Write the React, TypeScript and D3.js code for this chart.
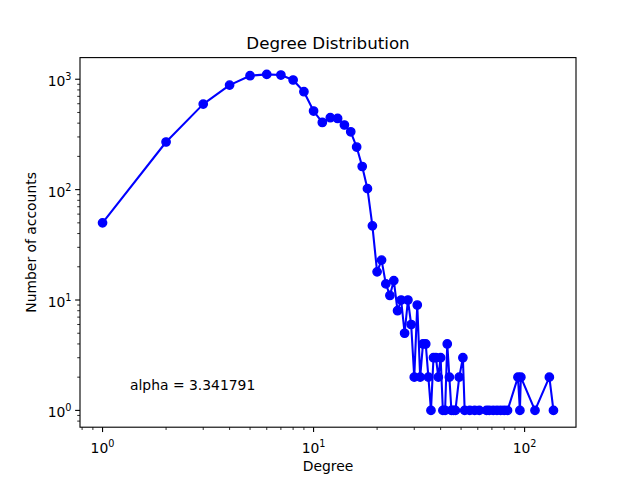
import React from 'react';
import * as d3 from 'd3';

// degree -> number of accounts
const degrees = [
  1, 2, 3, 4, 5, 6, 7, 8, 9, 10, 11, 12, 13, 14, 15, 16, 17, 18, 19, 20,
  21, 22, 23, 24, 25, 26, 27, 28, 29, 30, 31, 32, 33, 34, 35, 36, 37, 38, 39, 40,
  41, 42, 43, 44, 45, 46, 47, 49, 51, 52, 55, 58, 61, 66, 68, 71, 74, 77, 80, 83,
  93, 95, 96, 112, 131, 137,
];
const counts = [
  50, 270, 595, 885, 1076, 1106, 1092, 984, 771, 515, 406, 448, 441, 385, 334, 243, 162, 102, 47, 18,
  23, 14, 11, 15, 8, 10, 5, 10, 6, 2, 9, 2, 4, 4, 2, 1, 3, 3, 2, 3,
  1, 1, 4, 2, 1, 1, 1, 2, 3, 1, 1, 1, 1, 1, 1, 1, 1, 1, 1, 1,
  2, 1, 2, 1, 2, 1,
];
const xMajorTicks = [1, 10, 100];
const yMajorTicks = [1, 10, 100, 1000];
const tickExponents = ['0', '1', '2', '3'];

const chartTitle = 'Degree Distribution';
const xTitle = 'Degree';
const yTitle = 'Number of accounts';
const alphaNote = 'alpha = 3.341791';

const W = 640;
const H = 480;
const margin = { left: 80, right: 64, top: 57.6, bottom: 52.8 };
const font = 'DejaVu Sans, sans-serif';

// matplotlib style log domain with 5% padding in log space
const logPad = (lo: number, hi: number): [number, number] => {
  const a = Math.log10(lo);
  const b = Math.log10(hi);
  const p = (b - a) * 0.05;
  return [Math.pow(10, a - p), Math.pow(10, b + p)];
};

const minorTicks = (domain: number[]) => {
  const out: number[] = [];
  for (let e = -2; e <= 4; e++) {
    for (let k = 2; k <= 9; k++) {
      const v = k * Math.pow(10, e);
      if (v >= domain[0] && v <= domain[1]) out.push(v);
    }
  }
  return out;
};

const Pow10 = ({ exp, anchor, x, y }: { exp: string; anchor: string; x: number; y: number }) => (
  <text x={x} y={y} textAnchor={anchor} fontFamily={font} fontSize={13.9} fill="#000">
    10<tspan fontSize={9.7} dy={-6}>{exp}</tspan>
  </text>
);

export default function App() {
  const x0 = margin.left;
  const x1 = W - margin.right;
  const y0 = H - margin.bottom;
  const y1 = margin.top;

  const x = d3.scaleLog().domain(logPad(d3.min(degrees)!, d3.max(degrees)!)).range([x0, x1]);
  const y = d3.scaleLog().domain(logPad(d3.min(counts)!, d3.max(counts)!)).range([y0, y1]);

  const pts = degrees.map((d, i) => [x(d), y(counts[i])] as [number, number]);
  const line = d3.line()(pts);

  const xMinor = minorTicks(x.domain());
  const yMinor = minorTicks(y.domain());

  return (
    <svg width={W} height={H} style={{ position: 'absolute', left: 0, top: 0, background: '#fff' }}>
      <rect x={0} y={0} width={W} height={H} fill="#fff" />

      {/* data */}
      <path d={line!} fill="none" stroke="#0000ff" strokeWidth={2.08} strokeLinejoin="round" />
      {pts.map((p, i) => (
        <circle key={i} cx={p[0]} cy={p[1]} r={4.17} fill="#0000ff" stroke="#0000ff" strokeWidth={1.39} />
      ))}

      <text x={130} y={390} fontFamily={font} fontSize={13.9} fill="#000">{alphaNote}</text>

      {/* frame */}
      <rect x={x0} y={y1} width={x1 - x0} height={y0 - y1} fill="none" stroke="#000" strokeWidth={1.11} />

      {/* x ticks */}
      {xMinor.map((t) => (
        <line key={'xm' + t} x1={x(t)} x2={x(t)} y1={y0} y2={y0 + 2.78} stroke="#000" strokeWidth={0.83} />
      ))}
      {xMajorTicks.map((t, i) => (
        <g key={'xM' + t}>
          <line x1={x(t)} x2={x(t)} y1={y0} y2={y0 + 4.86} stroke="#000" strokeWidth={1.11} />
          <Pow10 exp={tickExponents[i]} anchor="middle" x={x(t)} y={452.5} />
        </g>
      ))}

      {/* y ticks */}
      {yMinor.map((t) => (
        <line key={'ym' + t} x1={x0} x2={x0 - 2.78} y1={y(t)} y2={y(t)} stroke="#000" strokeWidth={0.83} />
      ))}
      {yMajorTicks.map((t, i) => (
        <g key={'yM' + t}>
          <line x1={x0} x2={x0 - 4.86} y1={y(t)} y2={y(t)} stroke="#000" strokeWidth={1.11} />
          <Pow10 exp={tickExponents[i]} anchor="end" x={71.5} y={y(t) + 7} />
        </g>
      ))}

      {/* titles */}
      <text x={(x0 + x1) / 2} y={49} textAnchor="middle" fontFamily={font} fontSize={16.7} fill="#000">
        {chartTitle}
      </text>
      <text x={(x0 + x1) / 2} y={471} textAnchor="middle" fontFamily={font} fontSize={13.9} fill="#000">
        {xTitle}
      </text>
      <text
        x={36}
        y={(y0 + y1) / 2}
        transform={`rotate(-90, 36, ${(y0 + y1) / 2})`}
        textAnchor="middle"
        fontFamily={font}
        fontSize={13.9}
        fill="#000"
      >
        {yTitle}
      </text>
    </svg>
  );
}
